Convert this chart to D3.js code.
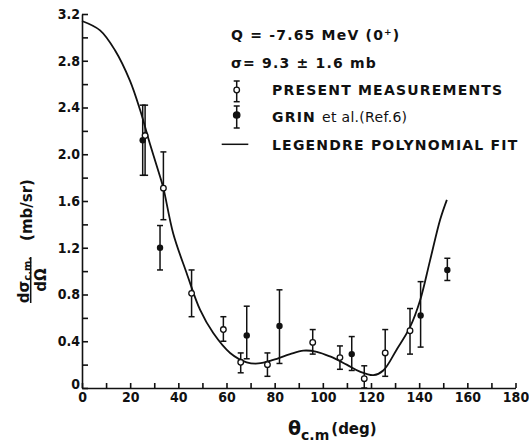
<!DOCTYPE html>
<html>
<head>
<meta charset="utf-8">
<script src="https://cdn.jsdelivr.net/npm/d3@7"></script>
<style>
  body { margin: 0; background: #fff; }
  svg { display: block; }
  .tick text { font-family: "DejaVu Sans Condensed", "DejaVu Sans", sans-serif; font-stretch: condensed; font-weight: bold; font-size: 14px; fill: #111; }
  .legendText { font-family: "DejaVu Sans", sans-serif; font-weight: bold; font-size: 14px; letter-spacing: 1.2px; fill: #111; }
  .axisLabel { font-family: "DejaVu Sans", sans-serif; font-weight: bold; fill: #111; }
</style>
</head>
<body>
<div id="chart"></div>
<script>
// chart size and margins
const svgWidth = 529;
const svgHeight = 443;
const margin = { top: 14, right: 13.5, bottom: 55, left: 82 };
const width = svgWidth - margin.left - margin.right;
const height = svgHeight - margin.top - margin.bottom;

// Legendre polynomial fit
const fitAngle = [0, 7.5, 13.7, 19.9, 24.1, 28.2, 32.4, 33.8, 37.9, 43.5, 49, 54.5, 61.5, 68.4, 73.2, 79.4, 86.4, 91.9, 97.5, 103, 109.9, 115.4, 121, 125.1, 130.7, 136.2, 140.4, 144.5, 148.7, 151.5];
const fitValue = [3.14, 3.06, 2.89, 2.63, 2.38, 2.09, 1.81, 1.71, 1.32, 0.98, 0.67, 0.47, 0.30, 0.22, 0.21, 0.24, 0.29, 0.32, 0.31, 0.27, 0.20, 0.14, 0.11, 0.15, 0.33, 0.52, 0.75, 1.09, 1.44, 1.61];

// present measurements (open circles)
const presentAngle = [26.2, 33.8, 45.5, 58.7, 65.9, 77, 95.8, 107.1, 117.2, 125.9, 136.2];
const presentValue = [2.16, 1.71, 0.81, 0.50, 0.22, 0.20, 0.39, 0.26, 0.08, 0.30, 0.49];
const presentLow = [1.82, 1.44, 0.61, 0.40, 0.13, 0.10, 0.29, 0.16, 0.0, 0.10, 0.29];
const presentHigh = [2.42, 2.02, 1.01, 0.61, 0.30, 0.30, 0.50, 0.36, 0.19, 0.50, 0.68];

// Grin et al. (filled circles)
const grinAngle = [25.2, 32.4, 68.4, 82, 112, 140.6, 151.7];
const grinValue = [2.12, 1.20, 0.45, 0.53, 0.29, 0.62, 1.01];
const grinLow = [1.82, 1.01, 0.25, 0.21, 0.15, 0.35, 0.92];
const grinHigh = [2.42, 1.39, 0.70, 0.84, 0.44, 0.91, 1.11];

// tick labels
const xTickValues = [0, 20, 40, 60, 80, 100, 120, 140, 160, 180];
const yTickValues = [0, 0.4, 0.8, 1.2, 1.6, 2.0, 2.4, 2.8, 3.2];

const svg = d3.select('#chart')
  .append('svg')
  .attr('width', svgWidth)
  .attr('height', svgHeight);

const chartGroup = svg.append('g')
  .attr('transform', `translate(${margin.left}, ${margin.top})`);

const xScale = d3.scaleLinear().domain([0, 180]).range([0, width]);
const yScale = d3.scaleLinear().domain([0, 3.2]).range([height, 0]);

// minor ticks first (no labels)
chartGroup.append('g')
  .attr('transform', `translate(0, ${height})`)
  .call(d3.axisBottom(xScale).tickValues(d3.range(10, 180, 20)).tickSize(-5).tickSizeOuter(0).tickFormat(''))
  .call(g => g.select('.domain').remove());

chartGroup.append('g')
  .call(d3.axisLeft(yScale).tickValues(d3.range(0.2, 3.2, 0.4)).tickSize(-6).tickSizeOuter(0).tickFormat(''))
  .call(g => g.select('.domain').remove());

// main axes
const xAxis = chartGroup.append('g')
  .classed('x-axis', true)
  .attr('transform', `translate(0, ${height})`)
  .call(d3.axisBottom(xScale).tickValues(xTickValues).tickSize(-5).tickSizeOuter(0).tickPadding(4).tickFormat(d3.format('d')));

const yAxis = chartGroup.append('g')
  .classed('y-axis', true)
  .call(d3.axisLeft(yScale).tickValues(yTickValues).tickSize(-6).tickSizeOuter(0).tickPadding(2)
    .tickFormat(d => d === 0 ? '0' : d3.format('.1f')(d)));

svg.selectAll('.domain, .tick line')
  .attr('stroke', '#111')
  .attr('stroke-width', 1.6);

// raise the "0" off the x axis
yAxis.selectAll('.tick text').filter(d => d === 0).attr('dy', '0.05em');

// fitted curve
const line = d3.line()
  .x(d => xScale(d[0]))
  .y(d => yScale(d[1]))
  .curve(d3.curveCatmullRom.alpha(0.5));

chartGroup.append('path')
  .datum(d3.zip(fitAngle, fitValue))
  .attr('d', line)
  .attr('fill', 'none')
  .attr('stroke', '#111')
  .attr('stroke-width', 1.8);

// error bars with caps
const drawErrorBars = (group, xs, lows, highs) => {
  const bars = group.selectAll(null)
    .data(d3.zip(xs, lows, highs))
    .enter()
    .append('g')
    .attr('stroke', '#111')
    .attr('stroke-width', 1.5);
  bars.append('line')
    .attr('x1', d => xScale(d[0])).attr('x2', d => xScale(d[0]))
    .attr('y1', d => yScale(d[1])).attr('y2', d => yScale(d[2]));
  bars.append('line')
    .attr('x1', d => xScale(d[0]) - 3).attr('x2', d => xScale(d[0]) + 3)
    .attr('y1', d => yScale(d[1])).attr('y2', d => yScale(d[1]));
  bars.append('line')
    .attr('x1', d => xScale(d[0]) - 3).attr('x2', d => xScale(d[0]) + 3)
    .attr('y1', d => yScale(d[2])).attr('y2', d => yScale(d[2]));
};

const grinGroup = chartGroup.append('g');
drawErrorBars(grinGroup, grinAngle, grinLow, grinHigh);
grinGroup.selectAll('circle')
  .data(d3.zip(grinAngle, grinValue))
  .enter()
  .append('circle')
  .attr('cx', d => xScale(d[0]))
  .attr('cy', d => yScale(d[1]))
  .attr('r', 3.2)
  .attr('fill', '#111');

const presentGroup = chartGroup.append('g');
drawErrorBars(presentGroup, presentAngle, presentLow, presentHigh);
presentGroup.selectAll('circle')
  .data(d3.zip(presentAngle, presentValue))
  .enter()
  .append('circle')
  .attr('cx', d => xScale(d[0]))
  .attr('cy', d => yScale(d[1]))
  .attr('r', 2.8)
  .attr('fill', '#fff')
  .attr('stroke', '#111')
  .attr('stroke-width', 1.3);

// legend and annotations
const legend = svg.append('g');

const qText = legend.append('text').classed('legendText', true).attr('x', 231).attr('y', 40);
qText.append('tspan').text('Q  =  -7.65 MeV (0');
qText.append('tspan').attr('font-size', 9).attr('dy', -5).text('+');
qText.append('tspan').attr('dy', 5).text(')');

legend.append('text').classed('legendText', true).attr('x', 231).attr('y', 68)
  .text('σ=  9.3 ± 1.6 mb');

// legend marker: open circle with error bar
const markerX = 236.7;
[[81, 101.7, 90, false], [106, 128, 115, true]].forEach(([top, bottom, cy, filled]) => {
  const m = legend.append('g').attr('stroke', '#111').attr('stroke-width', 1.5);
  m.append('line').attr('x1', markerX).attr('x2', markerX).attr('y1', top).attr('y2', bottom);
  m.append('line').attr('x1', markerX - 3).attr('x2', markerX + 3).attr('y1', top).attr('y2', top);
  m.append('line').attr('x1', markerX - 3).attr('x2', markerX + 3).attr('y1', bottom).attr('y2', bottom);
  m.append('circle').attr('cx', markerX).attr('cy', cy).attr('r', filled ? 3.2 : 2.8)
    .attr('fill', filled ? '#111' : '#fff').attr('stroke-width', 1.3);
});
legend.append('line')
  .attr('x1', 221.7).attr('x2', 248.3).attr('y1', 144.3).attr('y2', 144.3)
  .attr('stroke', '#111').attr('stroke-width', 1.5);

legend.append('text').classed('legendText', true).attr('x', 272).attr('y', 95)
  .text('PRESENT MEASUREMENTS');
const grinText = legend.append('text').classed('legendText', true).attr('x', 272).attr('y', 122);
grinText.append('tspan').text('GRIN ');
grinText.append('tspan').attr('font-weight', 'normal').attr('letter-spacing', 0.3).text('et al.(Ref.6)');
legend.append('text').classed('legendText', true).attr('x', 272).attr('y', 150)
  .text('LEGENDRE  POLYNOMIAL  FIT');

// x axis title
const xLabel = svg.append('text').classed('axisLabel', true).attr('x', 288).attr('y', 435);
xLabel.append('tspan').attr('font-size', 19).text('θ');
xLabel.append('tspan').attr('font-size', 14).attr('dy', 5).text('c.m');
xLabel.append('tspan').attr('font-size', 15).attr('dy', -6).attr('dx', 2).text('(deg)');

// y axis title (rotated fraction)
const yLabel = svg.append('g').attr('transform', 'translate(30.7, 280) rotate(-90)');
const num = yLabel.append('text').classed('axisLabel', true).attr('x', 0).attr('y', -2).attr('text-anchor', 'middle');
num.append('tspan').attr('font-size', 15).text('dσ');
num.append('tspan').attr('font-size', 10).attr('dy', 2).text('c.m.');
yLabel.append('line')
  .attr('x1', -23).attr('x2', 23).attr('y1', 0).attr('y2', 0)
  .attr('stroke', '#111').attr('stroke-width', 1.5);
yLabel.append('text').classed('axisLabel', true).attr('x', 0).attr('y', 15).attr('text-anchor', 'middle')
  .attr('font-size', 15).text('dΩ');
yLabel.append('text').classed('axisLabel', true).attr('x', 70).attr('y', 1).attr('text-anchor', 'middle')
  .attr('font-size', 15).text('(mb/sr)');
</script>
</body>
</html>
